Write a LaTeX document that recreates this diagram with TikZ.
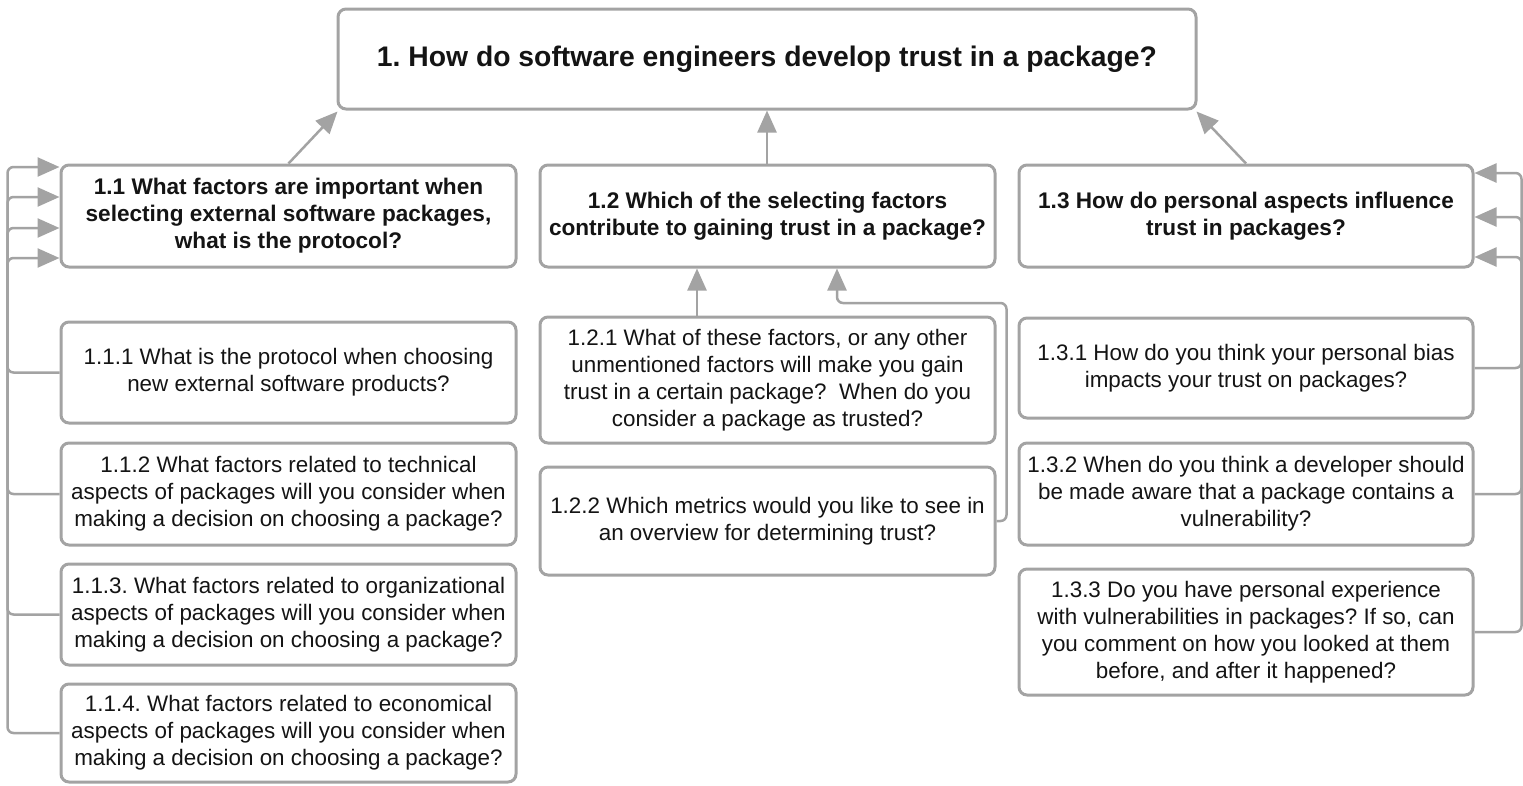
\documentclass[tikz,border=0pt]{standalone}
\usepackage{fontspec}
\setmainfont{Liberation Sans}
\usetikzlibrary{arrows.meta}
\definecolor{edgegray}{HTML}{A3A3A3}
\definecolor{ink}{HTML}{141414}
\frenchspacing
\tikzset{
  qbox/.style={draw=edgegray, line width=3pt, rounded corners=8pt, fill=white,
    text=ink, align=center, inner sep=0pt, minimum width=455pt},
  body/.style={qbox, font=\fontsize{22.4}{27}\selectfont},
  head/.style={qbox, font=\fontsize{22.6}{27}\selectfont\bfseries},
  link/.style={draw=edgegray, line width=2.5pt, rounded corners=6pt,
    -{Triangle[length=22pt,width=19pt]}},
}
\begin{document}
\begin{tikzpicture}[x=1pt,y=-1pt]
\useasboundingbox (0,0) rectangle (1523,785);

% main question
\node[qbox, minimum width=858pt, minimum height=100pt,
      font=\fontsize{28.3}{32}\selectfont\bfseries] (top) at (767,59)
  {1. How do software engineers develop trust in a package?};

% sub questions
\node[head, minimum height=102pt] (b11) at (288.5,216)
  {1.1 What factors are important when\\selecting external software packages,\\what is the protocol?};
\node[head, minimum height=102pt] (b12) at (767.5,216)
  {1.2 Which of the selecting factors\\contribute to gaining trust in a package?};
\node[head, minimum height=102pt, minimum width=454pt] (b13) at (1246,216)
  {1.3 How do personal aspects influence\\trust in packages?};

% interview questions for 1.1
\node[body, minimum height=101pt] (c111) at (288.5,372.5)
  {1.1.1 What is the protocol when choosing\\new external software products?};
\node[body, minimum height=102pt] (c112) at (288.5,494)
  {1.1.2 What factors related to technical\\aspects of packages will you consider when\\making a decision on choosing a package?};
\node[body, minimum height=101pt] (c113) at (288.5,614.5)
  {1.1.3. What factors related to organizational\\aspects of packages will you consider when\\making a decision on choosing a package?};
\node[body, minimum height=98pt] (c114) at (288.5,733)
  {1.1.4. What factors related to economical\\aspects of packages will you consider when\\making a decision on choosing a package?};

% interview questions for 1.2
\node[body, minimum height=126pt] (c121) at (767.5,380)
  {\raisebox{6pt}{\parbox{455pt}{\centering 1.2.1 What of these factors, or any other\\unmentioned factors will make you gain\\trust in a certain package?\ \ When do you\\consider a package as trusted?}}};
\node[body, minimum height=108pt] (c122) at (767.5,521)
  {1.2.2 Which metrics would you like to see in\\an overview for determining trust?};

% interview questions for 1.3
\node[body, minimum height=100pt, minimum width=454pt] (c131) at (1246,368)
  {1.3.1 How do you think your personal bias\\impacts your trust on packages?};
\node[body, minimum height=102pt, minimum width=454pt] (c132) at (1246,494)
  {1.3.2 When do you think a developer should\\be made aware that a package contains a\\vulnerability?};
\node[body, minimum height=126pt, minimum width=454pt] (c133) at (1246,632)
  {\raisebox{5pt}{\parbox{454pt}{\centering 1.3.3 Do you have personal experience\\with vulnerabilities in packages? If so, can\\you comment on how you looked at them\\before, and after it happened?}}};

% sub questions feed the main question
\draw[link] (b11.north) -- ([shift={(1pt,-1pt)}]top.south west);
\draw[link] (b12.north -| top.south) -- (top.south);
\draw[link] (b13.north) -- ([shift={(-1pt,-1pt)}]top.south east);

% left bus into 1.1
\draw[link] (c114.west) -- ++(-52,0) |- ([yshift=-42pt]b11.west);
\draw[link] (c113.west) -- ++(-52,0) |- ([yshift=-12pt]b11.west);
\draw[link] (c112.west) -- ++(-52,0) |- ([yshift=19pt]b11.west);
\draw[link] (c111.west) -- ++(-52,0) |- ([yshift=49pt]b11.west);

% connections into 1.2
\draw[link] ([xshift=-70.5pt]c121.north) -- ([xshift=-70.5pt]b12.south);
\draw[link] (c122.east) -- ++(10,0) -- ++(0,-218) -| ([xshift=69.5pt]b12.south);

% right bus into 1.3
\draw[link] (c133.east) -- ++(47,0) |- ([yshift=-41pt]b13.east);
\draw[link] (c132.east) -- ++(47,0) |- ([yshift=-1pt]b13.east);
\draw[link] (c131.east) -- ++(47,0) |- ([yshift=43pt]b13.east);
\end{tikzpicture}
\end{document}
